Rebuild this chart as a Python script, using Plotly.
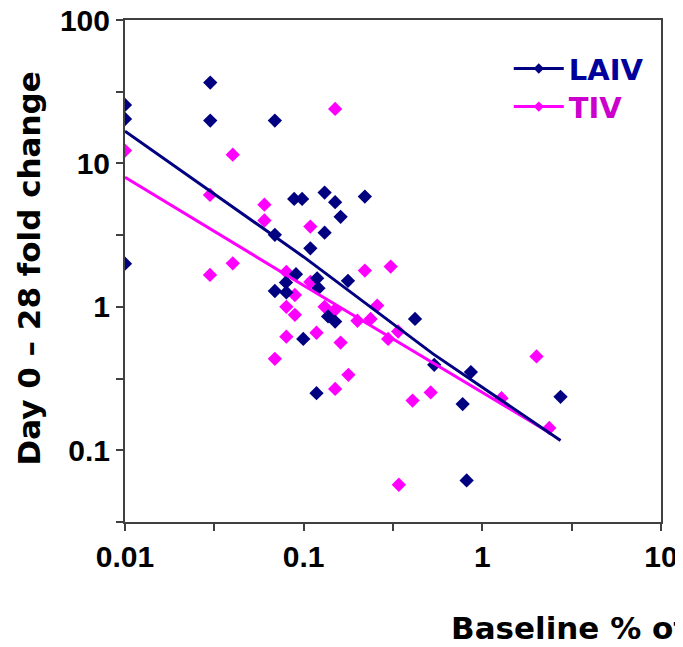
import plotly.graph_objects as go

# ---- data ----
laiv_x = [0.01, 0.01, 0.01, 0.030, 0.030, 0.069, 0.0885, 0.098, 0.131, 0.150, 0.161, 0.22,
          0.131, 0.069, 0.109, 0.0906, 0.0796, 0.069, 0.080, 0.119, 0.121, 0.177, 0.137,
          0.150, 0.0995, 0.118, 0.42, 0.538, 0.863, 0.776, 2.74, 0.817]
laiv_y = [25.6, 20.4, 2.0, 36.6, 19.9, 19.9, 5.66, 5.66, 6.26, 5.37, 4.24, 5.87,
          3.29, 3.18, 2.56, 1.69, 1.48, 1.29, 1.26, 1.58, 1.35, 1.52, 0.857,
          0.79, 0.598, 0.25, 0.824, 0.394, 0.351, 0.21, 0.236, 0.0616]

tiv_x = [0.01, 0.0401, 0.150, 0.0299, 0.0603, 0.0603, 0.109, 0.0401, 0.0299, 0.080, 0.0893,
         0.080, 0.0893, 0.109, 0.080, 0.118, 0.069, 0.131, 0.150, 0.161, 0.150, 0.178,
         0.22, 0.307, 0.258, 0.20, 0.237, 0.297, 0.338, 0.514, 0.407, 1.28, 2.01, 2.37, 0.341]
tiv_y = [12.3, 11.5, 24.0, 6.03, 5.16, 4.0, 3.63, 2.01, 1.67, 1.75, 1.21,
         1.0, 0.88, 1.49, 0.62, 0.66, 0.434, 1.0, 0.953, 0.564, 0.268, 0.336,
         1.79, 1.91, 1.02, 0.80, 0.824, 0.598, 0.673, 0.253, 0.222, 0.231, 0.451, 0.143, 0.0575]

laiv_fit_x = [0.01, 0.1, 0.53, 2.74]
laiv_fit_y = [16.8, 2.23, 0.47, 0.117]
tiv_fit_x = [0.01, 0.1, 2.39]
tiv_fit_y = [8.0, 1.41, 0.132]

x_tickvals = [0.01, 0.0316, 0.1, 0.316, 1, 3.16, 10]
x_ticktext = ["0.01", "", "0.1", "", "1", "", "10"]
y_tickvals = [0.0316, 0.1, 0.316, 1, 3.16, 10, 31.6, 100]
y_ticktext = ["", "0.1", "", "1", "", "10", "", "100"]

series_names = ["LAIV", "TIV"]
NAVY = "#000080"
MAGENTA = "#FF00FF"
LEG_NAVY = "#00009C"
LEG_MAG = "#CC00CC"

fig = go.Figure()
fig.add_trace(go.Scatter(x=tiv_x, y=tiv_y, mode="markers", showlegend=False,
                         marker=dict(symbol="diamond", size=11, color=MAGENTA)))
fig.add_trace(go.Scatter(x=laiv_x, y=laiv_y, mode="markers", showlegend=False,
                         marker=dict(symbol="diamond", size=11, color=NAVY)))
fig.add_trace(go.Scatter(x=tiv_fit_x, y=tiv_fit_y, mode="lines", showlegend=False,
                         line=dict(color=MAGENTA, width=3)))
fig.add_trace(go.Scatter(x=laiv_fit_x, y=laiv_fit_y, mode="lines", showlegend=False,
                         line=dict(color=NAVY, width=3)))
# legend entries (one legend each so they can be placed independently)
fig.add_trace(go.Scatter(x=[None], y=[None], mode="lines+markers", legend="legend",
                         name=f"<span style='color:{LEG_NAVY}'>{series_names[0]}</span>",
                         line=dict(color=NAVY, width=3),
                         marker=dict(symbol="diamond", size=8, color=NAVY)))
fig.add_trace(go.Scatter(x=[None], y=[None], mode="lines+markers", legend="legend2",
                         name=f"<span style='color:{LEG_MAG}'>{series_names[1]}</span>",
                         line=dict(color=MAGENTA, width=3),
                         marker=dict(symbol="diamond", size=8, color=MAGENTA)))

axis_common = dict(type="log", showgrid=False, zeroline=False, showline=True,
                   linecolor="#404040", linewidth=2, mirror=True, automargin=False,
                   ticks="outside", ticklen=7, tickwidth=1.5, tickcolor="#404040",
                   ticklabeloverflow="allow",
                   tickfont=dict(family="Liberation Sans, Arial, sans-serif", size=30,
                                 color="black", weight="bold"))

fig.update_xaxes(range=[-2, 1], tickvals=x_tickvals, ticktext=x_ticktext, **axis_common)
fig.update_yaxes(range=[-1.5, 2], tickvals=y_tickvals, ticktext=y_ticktext, **axis_common)

legend_font = dict(family="DejaVu Sans, sans-serif", size=29, weight="bold")
fig.update_layout(
    width=683, height=647,
    margin=dict(l=117, r=30, t=12, b=133, autoexpand=False),
    paper_bgcolor="white", plot_bgcolor="white",
    legend=dict(x=0.716, y=0.954, xanchor="left", yanchor="top",
                bgcolor="rgba(0,0,0,0)", itemwidth=50, font=legend_font),
    legend2=dict(x=0.716, y=0.878, xanchor="left", yanchor="top",
                 bgcolor="rgba(0,0,0,0)", itemwidth=50, font=legend_font),
    annotations=[
        dict(text="<b>Day 0 – 28 fold change</b>", textangle=-90,
             xref="paper", yref="paper", x=-0.179, y=0.505,
             xanchor="center", yanchor="middle", showarrow=False,
             font=dict(family="DejaVu Sans, sans-serif", size=31, color="black")),
        dict(text="<b>Baseline % of</b>",
             xref="paper", yref="paper", x=0.605, y=-0.211,
             xanchor="left", yanchor="middle", showarrow=False,
             font=dict(family="DejaVu Sans, sans-serif", size=31, color="black")),
    ],
)

fig.write_html("out.html")
